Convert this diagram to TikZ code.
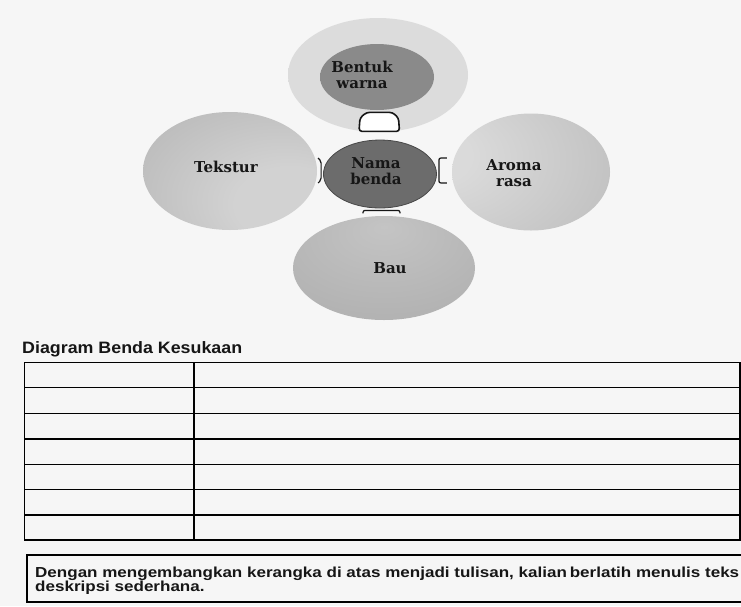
\documentclass[tikz,border=0pt]{standalone}
\usepackage{fontspec}
\setmainfont{Liberation Sans}
\newfontfamily\ellfont{DejaVu Serif}
\usetikzlibrary{shapes.geometric,calc}
\definecolor{bgc}{HTML}{F6F6F6}
\definecolor{outc}{HTML}{DCDCDC}
\definecolor{outedge}{HTML}{E8E8E8}
\definecolor{bentc}{HTML}{8A8A8A}
\definecolor{bentedge}{HTML}{7C7C7C}
\definecolor{namac}{HTML}{6C6C6C}
\definecolor{namaedge}{HTML}{5A5A5A}
\definecolor{teklight}{HTML}{D2D2D2}
\definecolor{tekdark}{HTML}{9C9C9C}
\definecolor{arolight}{HTML}{DADADA}
\definecolor{arodark}{HTML}{A2A2A2}
\definecolor{baulight}{HTML}{C4C4C4}
\definecolor{baudark}{HTML}{A2A2A2}
\definecolor{inkc}{HTML}{161616}
\pgfdeclareradialshading{shout}{\pgfpoint{0bp}{0bp}}{color(0bp)=(outc); color(38bp)=(outc); color(50bp)=(outedge)}
\pgfdeclareradialshading{shbent}{\pgfpoint{0bp}{0bp}}{color(0bp)=(bentc); color(40bp)=(bentc); color(50bp)=(bentedge)}
\pgfdeclareradialshading{shnama}{\pgfpoint{0bp}{0bp}}{color(0bp)=(namac); color(35bp)=(namac); color(50bp)=(namaedge)}
\pgfdeclareradialshading{shtek}{\pgfpoint{22bp}{-18bp}}{color(0bp)=(teklight); color(16bp)=(teklight); color(78bp)=(tekdark)}
\pgfdeclareradialshading{sharo}{\pgfpoint{-36bp}{8bp}}{color(0bp)=(arolight); color(12bp)=(arolight); color(90bp)=(arodark)}
\pgfdeclareradialshading{shbau}{\pgfpoint{0bp}{20bp}}{color(0bp)=(baulight); color(66bp)=(baudark)}
\tikzset{
  blob/.style={ellipse, inner sep=0pt, draw=none},
  elltext/.style={font=\ellfont\bfseries\fontsize{15}{16}\selectfont, align=center, text=inkc, inner sep=0pt},
  bracketline/.style={draw=inkc, line width=1.2pt, rounded corners=2pt},
  houseline/.style={draw=inkc, line width=1.6pt, fill=white, rounded corners=3pt},
  rule/.style={draw=black, line width=1.4pt}
}
\begin{document}
\begin{tikzpicture}[x=1pt,y=-1pt]
\useasboundingbox (0,0) rectangle (741,606);
\fill[bgc] (0,0) rectangle (741,606);
\clip (0,0) rectangle (741,606);
% ellipses
\node[blob, shade, shading=shout, minimum width=180pt, minimum height=114pt] (outer) at (378,75) {};
\node[blob, shade, shading=shbent, minimum width=114pt, minimum height=66pt] (bentuk) at (377,77) {};
\node[blob, shade, shading=shtek, minimum width=174pt, minimum height=118pt] (tekstur) at (230,171) {};
\node[blob, shade, shading=sharo, minimum width=158pt, minimum height=117pt] (aroma) at (531,172) {};
\node[blob, shade, shading=shbau, minimum width=182pt, minimum height=104pt] (bau) at (384,268) {};
\node[blob, shade, shading=shnama, draw=namaedge!80!black, line width=0.8pt, minimum width=113pt, minimum height=68pt] (nama) at (380,174) {};
% texts
\node[elltext] (tbentuk) at (362,75) {Bentuk\\warna};
\node[elltext] (ttekstur) at (226,167) {Tekstur};
\node[elltext] (tnama) at (376,171) {Nama\\benda};
\node[elltext] (taroma) at (514,173) {Aroma\\rasa};
\node[elltext] (tbau) at (390,268) {Bau};
% connectors
\coordinate (hc) at ($(bentuk.south)!0.5!(nama.north)$);
\draw[houseline] ($(hc)+(-19.5,6.5)$) -- ($(hc)+(-18.5,-7)$) -- ($(hc)+(-12,-12.5)$) -- ($(hc)+(14,-12.5)$) -- ($(hc)+(20,-7)$) -- ($(hc)+(21,6.5)$) -- cycle;
\draw[bracketline] ($(nama.west)+(-5,-16)$) -- ($(nama.west)+(-2,-13)$) -- ($(nama.west)+(-2,6)$) -- ($(nama.west)+(-5,9)$);
\draw[bracketline] ($(nama.east)+(10,-16)$) -- ($(nama.east)+(2,-16)$) -- ($(nama.east)+(2,9)$) -- ($(nama.east)+(10,9)$);
\draw[bracketline] ($(nama.south)+(-17,5)$) -- ($(nama.south)+(-17,2)$) -- ($(nama.south)+(20,2)$) -- ($(nama.south)+(20,5)$);
% title
\node[anchor=base west, inner sep=0pt, text=inkc] (title) at (22,353) {\resizebox{220pt}{\height}{\fontsize{16.5}{18}\selectfont\bfseries Diagram Benda Kesukaan}};
% table
\draw[rule] (24.5,362.5) rectangle (740,540);
\foreach \yy in {387.5,413.5,439,464.5,489.5,515} { \draw[rule] (24.5,\yy) -- (740,\yy); }
\draw[rule] (194,362.5) -- (194,540);
% text box
\draw[rule] (750,555) -- (27,555) -- (27,602) -- (750,602);
\node[anchor=base west, inner sep=0pt, text=inkc] (boxtext) at (35,577.3) {\resizebox{704pt}{\height}{\fontsize{14.5}{13.2}\selectfont\bfseries\begin{tabular}[t]{@{}l@{}}Dengan mengembangkan kerangka di atas menjadi tulisan, kalian\,berlatih menulis teks\\deskripsi sederhana.\end{tabular}}};
\end{tikzpicture}
\end{document}
